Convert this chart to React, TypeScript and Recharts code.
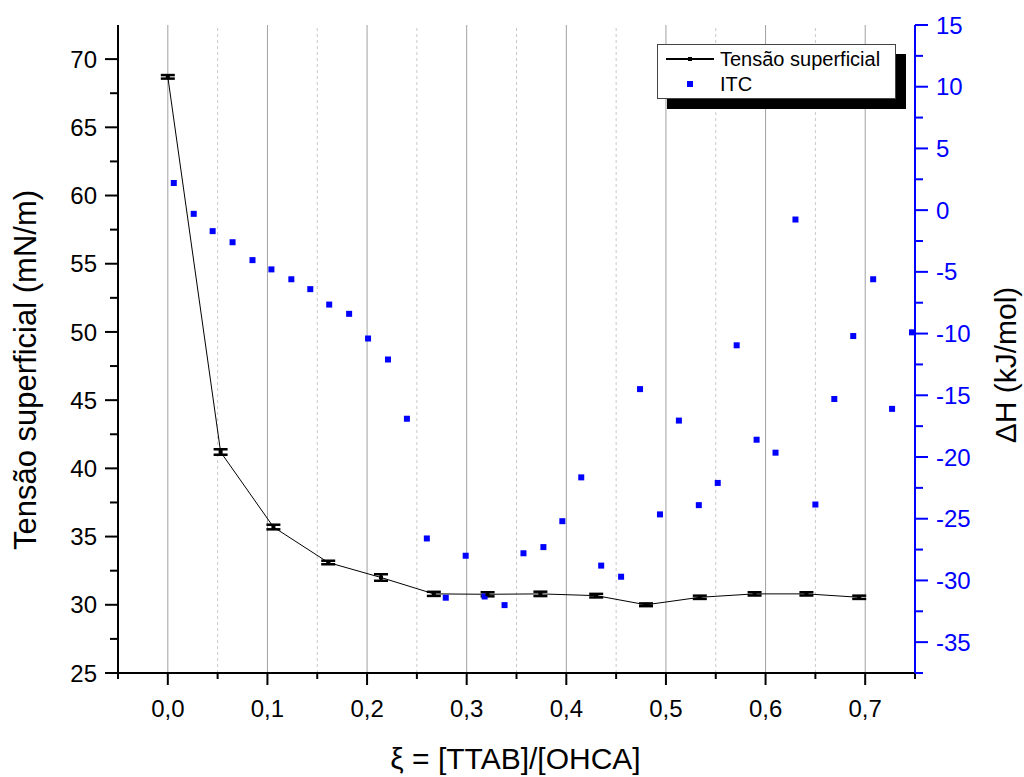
import {
  ComposedChart,
  Line,
  Scatter,
  XAxis,
  YAxis,
  ErrorBar,
  ReferenceLine,
  Legend,
} from 'recharts';

// Tensão superficial (mN/m) vs xi
const tensionX = [0, 0.053, 0.106, 0.161, 0.214, 0.267, 0.321, 0.374, 0.43, 0.48, 0.534, 0.589, 0.641, 0.694];
const tensionY = [68.7, 41.2, 35.7, 33.1, 32.0, 30.8, 30.77, 30.8, 30.67, 30.0, 30.55, 30.8, 30.8, 30.55];
const tensionErr = [0.13, 0.2, 0.17, 0.13, 0.24, 0.15, 0.15, 0.16, 0.13, 0.1, 0.12, 0.12, 0.12, 0.12];

// ITC, Delta H (kJ/mol)
const itcX = [
  0.006, 0.026, 0.045, 0.065, 0.085, 0.104, 0.124, 0.143, 0.162, 0.182, 0.201, 0.221, 0.24,
  0.26, 0.279, 0.299, 0.318, 0.338, 0.357, 0.377, 0.396, 0.415, 0.435, 0.455, 0.474, 0.494,
  0.513, 0.533, 0.552, 0.571, 0.591, 0.61, 0.63, 0.65, 0.669, 0.688, 0.708, 0.727, 0.747,
];
const itcY = [
  2.2, -0.3, -1.7, -2.6, -4.05, -4.8, -5.6, -6.4, -7.65, -8.4, -10.4, -12.1, -16.9,
  -26.6, -31.4, -28.0, -31.3, -32.0, -27.8, -27.3, -25.2, -21.65, -28.8, -29.7, -14.5, -24.65,
  -17.05, -23.9, -22.1, -10.95, -18.6, -19.65, -0.76, -23.85, -15.3, -10.2, -5.6, -16.1, -9.9,
];

const xTicks = [-0.05, 0, 0.05, 0.1, 0.15, 0.2, 0.25, 0.3, 0.35, 0.4, 0.45, 0.5, 0.55, 0.6, 0.65, 0.7, 0.75];
const majorGrid = [0, 0.1, 0.2, 0.3, 0.4, 0.5, 0.6, 0.7];
const minorGrid = [0.05, 0.15, 0.25, 0.35, 0.45, 0.55, 0.65];
const leftTicks = [25, 27.5, 30, 32.5, 35, 37.5, 40, 42.5, 45, 47.5, 50, 52.5, 55, 57.5, 60, 62.5, 65, 67.5, 70];
const rightTicks = [-37.5, -35, -32.5, -30, -27.5, -25, -22.5, -20, -17.5, -15, -12.5, -10, -7.5, -5, -2.5, 0, 2.5, 5, 7.5, 10, 12.5, 15];

const tensionData = tensionX.map((x, i) => ({ x, y: tensionY[i], err: tensionErr[i] }));
const itcData = itcX.map((x, i) => ({ x, y: itcY[i] }));

const FONT = "Arial, 'Liberation Sans', sans-serif";
const BLUE = '#0000ff';

const isMajorX = (v: number) => Math.abs(Math.round(v * 20)) % 2 === 0;

const BottomTick = (props: any) => {
  const { x, y, payload } = props;
  const major = isMajorX(payload.value);
  return (
    <g>
      <line x1={x} x2={x} y1={y} y2={y + (major ? 12 : 6)} stroke="#000" strokeWidth={2} />
      {major && (
        <text x={x} y={y + 44} textAnchor="middle" fontSize={24} fontFamily={FONT} fill="#000">
          {payload.value.toFixed(1).replace('.', ',')}
        </text>
      )}
    </g>
  );
};

const TopTick = (props: any) => {
  const { x, y, payload } = props;
  const major = isMajorX(payload.value);
  return <line x1={x} x2={x} y1={y} y2={y + (major ? 12 : 7)} stroke="#000" strokeWidth={2} />;
};

const LeftTick = (props: any) => {
  const { x, y, payload } = props;
  const major = payload.value % 5 === 0;
  return (
    <g>
      <line x1={x} x2={x - (major ? 13 : 8)} y1={y} y2={y} stroke="#000" strokeWidth={2} />
      {major && (
        <text x={x - 21} y={y} dy="0.36em" textAnchor="end" fontSize={24} fontFamily={FONT} fill="#000">
          {payload.value}
        </text>
      )}
    </g>
  );
};

const RightTick = (props: any) => {
  const { x, y, payload } = props;
  const major = payload.value % 5 === 0;
  return (
    <g>
      <line x1={x} x2={x + (major ? 13 : 8)} y1={y} y2={y} stroke={BLUE} strokeWidth={2} />
      {major && (
        <text x={x + 21} y={y} dy="0.36em" textAnchor="start" fontSize={24} fontFamily={FONT} fill={BLUE}>
          {payload.value}
        </text>
      )}
    </g>
  );
};

const leftTitle = (props: any) => {
  const vb = props.viewBox;
  const cx = vb.x + 36;
  const cy = vb.y + vb.height / 2 + 21;
  return (
    <text x={cx} y={cy} transform={`rotate(-90, ${cx}, ${cy})`} textAnchor="middle" fontSize={31} fontFamily={FONT} fill="#000">
      Tensão superficial (mN/m)
    </text>
  );
};

const rightTitle = (props: any) => {
  const vb = props.viewBox;
  const cx = vb.x + 101;
  const cy = vb.y + vb.height / 2 + 16;
  return (
    <text x={cx} y={cy} transform={`rotate(-90, ${cx}, ${cy})`} textAnchor="middle" fontSize={30} fontFamily={FONT} fill="#000">
      ΔH (kJ/mol)
    </text>
  );
};

const bottomTitle = (props: any) => {
  const vb = props.viewBox;
  return (
    <text x={vb.x + vb.width / 2 - 1} y={vb.y + 96} textAnchor="middle" fontSize={30} fontFamily={FONT} fill="#000">
      ξ = [TTAB]/[OHCA]
    </text>
  );
};

const SquareDot = (props: any) => {
  const { cx, cy } = props;
  if (cx == null || cy == null) return null;
  return <rect x={cx - 2} y={cy - 2} width={4} height={4} fill="#000" />;
};

const BlueSquare = (props: any) => {
  const { cx, cy } = props;
  return <rect x={cx - 3} y={cy - 3} width={6} height={6} fill={BLUE} />;
};

const renderLegend = (props: any) => {
  const items = [...(props.payload ?? [])].sort(
    (a: any, b: any) => (a.type === 'line' ? 0 : 1) - (b.type === 'line' ? 0 : 1)
  );
  return (
    <div
      style={{
        width: 239,
        height: 55,
        background: '#fff',
        border: '1px solid #444',
        boxShadow: '10px 10px 0 #000',
        boxSizing: 'border-box',
      }}
    >
      <svg width={237} height={53} style={{ display: 'block' }}>
        {items.map((entry: any, i: number) => {
          const cy = 14 + i * 25;
          return (
            <g key={i}>
              {entry.type === 'line' ? (
                <g>
                  <line x1={8} x2={56} y1={cy} y2={cy} stroke="#000" strokeWidth={2} />
                  <rect x={30} y={cy - 2} width={4} height={4} fill="#000" />
                </g>
              ) : (
                <rect x={29} y={cy - 3} width={6} height={6} fill={BLUE} />
              )}
              <text x={62} y={cy + 7} fontSize={20} fontFamily={FONT} fill="#000">
                {entry.value}
              </text>
            </g>
          );
        })}
      </svg>
    </div>
  );
};

export default function App() {
  return (
    <div style={{ position: 'absolute', left: 0, top: 0, background: '#fff' }}>
      <ComposedChart width={1024} height={777} margin={{ top: 25, right: 0, bottom: 0, left: 0 }}>
        <XAxis
          xAxisId="bottom"
          dataKey="x"
          type="number"
          domain={[-0.05, 0.75]}
          allowDataOverflow
          ticks={xTicks}
          interval={0}
          height={104}
          tickSize={0}
          tickMargin={0}
          tickLine={false}
          tick={BottomTick}
          axisLine={{ stroke: '#000', strokeWidth: 2 }}
          label={bottomTitle}
        />
        <XAxis
          xAxisId="top"
          orientation="top"
          dataKey="x"
          type="number"
          domain={[-0.05, 0.75]}
          allowDataOverflow
          ticks={xTicks}
          interval={0}
          height={0}
          tickSize={0}
          tickMargin={0}
          tickLine={false}
          tick={TopTick}
          axisLine={{ stroke: '#000', strokeWidth: 2 }}
        />
        <YAxis
          yAxisId="left"
          type="number"
          domain={[25, 72.5]}
          allowDataOverflow
          ticks={leftTicks}
          interval={0}
          width={118}
          tickSize={0}
          tickMargin={0}
          tickLine={false}
          tick={LeftTick}
          axisLine={{ stroke: '#000', strokeWidth: 2 }}
          label={leftTitle}
        />
        <YAxis
          yAxisId="right"
          orientation="right"
          type="number"
          domain={[-37.5, 15]}
          allowDataOverflow
          ticks={rightTicks}
          interval={0}
          width={109}
          tickSize={0}
          tickMargin={0}
          tickLine={false}
          tick={RightTick}
          axisLine={{ stroke: BLUE, strokeWidth: 2 }}
          label={rightTitle}
        />
        {majorGrid.map((v) => (
          <ReferenceLine key={`maj-${v}`} x={v} xAxisId="bottom" yAxisId="left" stroke="#a0a0a0" strokeWidth={1} />
        ))}
        {minorGrid.map((v) => (
          <ReferenceLine
            key={`min-${v}`}
            x={v}
            xAxisId="bottom"
            yAxisId="left"
            stroke="#c8c8c8"
            strokeWidth={1}
            strokeDasharray="3 3"
          />
        ))}
        <Line
          name="Tensão superficial"
          data={tensionData}
          xAxisId="bottom"
          yAxisId="left"
          dataKey="y"
          stroke="#000"
          strokeWidth={1}
          dot={SquareDot}
          activeDot={false}
          legendType="line"
          isAnimationActive={false}
        >
          <ErrorBar dataKey="err" direction="y" width={7} stroke="#000" strokeWidth={2.5} isAnimationActive={false} />
        </Line>
        <Scatter
          name="ITC"
          data={itcData}
          xAxisId="bottom"
          yAxisId="right"
          dataKey="y"
          shape={BlueSquare}
          legendType="square"
          isAnimationActive={false}
        />
        <Legend
          layout="vertical"
          align="center"
          verticalAlign="middle"
          content={renderLegend}
          wrapperStyle={{ left: 657, top: 44, width: 239, height: 55 }}
        />
      </ComposedChart>
    </div>
  );
}
